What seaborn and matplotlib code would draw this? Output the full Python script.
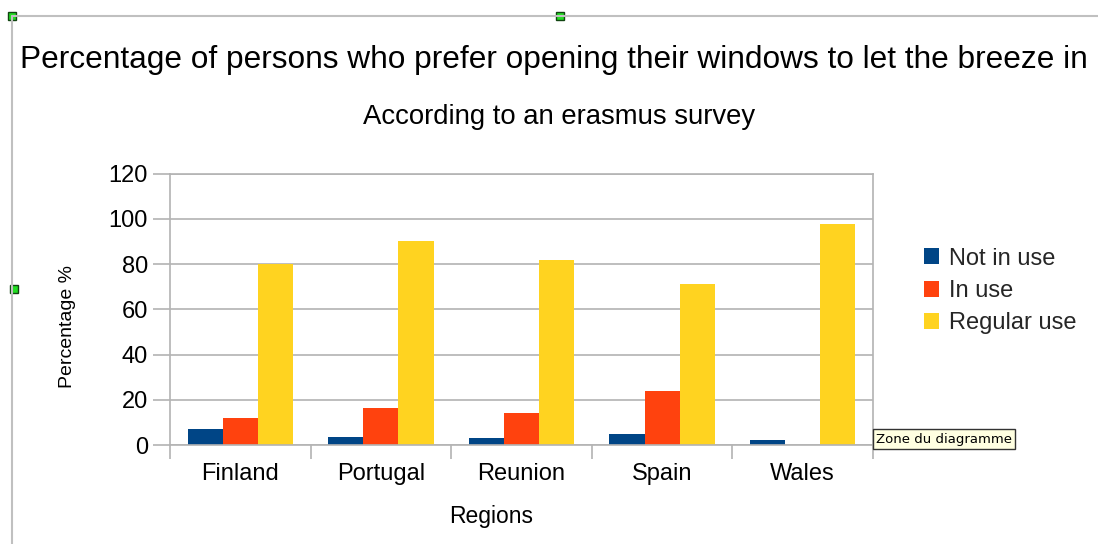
import matplotlib
matplotlib.use("Agg")
import matplotlib.pyplot as plt
from matplotlib.lines import Line2D
from matplotlib.patches import Rectangle
import seaborn as sns
import pandas as pd
import numpy as np

regions = ["Finland", "Portugal", "Reunion", "Spain", "Wales"]
series = ["Not in use", "In use", "Regular use"]
not_in_use = [7.2, 3.5, 3.2, 4.9, 2.2]
in_use = [12.2, 16.3, 14.4, 23.8, 0.0]
regular_use = [80.0, 90.0, 82.0, 71.4, 97.6]
colors = ["#004586", "#ff420e", "#ffd320"]
yticks = [0, 20, 40, 60, 80, 100, 120]

df = pd.DataFrame({
    "Region": regions * 3,
    "Series": [s for s in series for _ in regions],
    "Value": not_in_use + in_use + regular_use,
})

sns.set_theme(style="white")
plt.rcParams["font.family"] = ["Liberation Sans", "DejaVu Sans"]

fig = plt.figure(figsize=(10.98, 5.44), dpi=100)
ax = fig.add_axes([170 / 1098, 1 - 445.3 / 544, (873 - 170) / 1098, (445.3 - 173.5) / 544])

sns.barplot(data=df, x="Region", y="Value", hue="Series", hue_order=series,
            order=regions, palette=colors, width=0.75, saturation=1,
            edgecolor="none", linewidth=0, ax=ax, legend=False, errorbar=None)

grid_c = "#b3b3b3"
ax.set_ylim(0, 120)
ax.set_xlim(-0.5, 4.5)
ax.set_yticks(yticks)
ax.set_yticklabels([str(v) for v in yticks], fontsize=17, color="#000000")
ax.yaxis.grid(True, color=grid_c, linewidth=1.2)
ax.xaxis.grid(False)
ax.set_axisbelow(True)
for s in ax.spines.values():
    s.set_color(grid_c)
    s.set_linewidth(1.2)
    s.set_visible(True)
ax.tick_params(axis="y", which="major", length=12, width=1.2, color=grid_c, direction="out", pad=4, left=True)
ax.tick_params(axis="x", which="major", length=0, labelsize=17, pad=13, labelcolor="#000000")
ax.set_xticks(np.arange(-0.5, 5.0, 1.0), minor=True)
ax.tick_params(axis="x", which="minor", length=10, width=1.2, color=grid_c, direction="out", bottom=True)

ax.set_xlabel("Regions", fontsize=16.5, color="#000000", va="center")
ax.xaxis.set_label_coords((491 - 170) / 703, (445.3 - 517) / 271.8)
ax.set_ylabel("Percentage %", fontsize=14, color="#000000", va="center")
ax.yaxis.set_label_coords((68 - 170) / 703, (445.3 - 327) / 271.8)

fig.text(554 / 1098, 1 - 60 / 544, "Percentage of persons who prefer opening their windows to let the breeze in",
         fontsize=22.8, ha="center", va="center", color="#000000")
fig.text(559 / 1098, 1 - 117 / 544, "According to an erasmus survey",
         fontsize=19.8, ha="center", va="center", color="#000000")

handles = [Rectangle((0, 0), 1, 1, facecolor=c, edgecolor="none") for c in colors]
fig.legend(handles, series, loc="center left", bbox_to_anchor=(924 / 1098, 1 - 291 / 544),
           frameon=False, fontsize=17, handlelength=0.65, handleheight=0.65,
           handletextpad=0.4, labelspacing=0.44, borderaxespad=0, borderpad=0)

# window frame decoration
fig.add_artist(Line2D([12 / 1098, 1], [1 - 16 / 544, 1 - 16 / 544], transform=fig.transFigure, color="#c0c0c0", linewidth=1.5))
fig.add_artist(Line2D([12 / 1098, 12 / 1098], [0, 1 - 16 / 544], transform=fig.transFigure, color="#c0c0c0", linewidth=1.5))
for (px, py) in [(12, 16), (560, 16), (14, 289)]:
    fig.add_artist(Rectangle((px / 1098 - 4 / 1098, 1 - py / 544 - 4 / 544), 8 / 1098, 8 / 544,
                             transform=fig.transFigure, facecolor="#22dd22", edgecolor="#114411", linewidth=1))

fig.text(876 / 1098, 1 - 439 / 544, "Zone du diagramme", fontsize=9.5, ha="left", va="center",
         color="#000000", family=["DejaVu Sans"],
         bbox=dict(boxstyle="square,pad=0.25", facecolor="#ffffe1", edgecolor="#333333", linewidth=1))

fig.savefig("out.png", dpi=100, facecolor="white")
